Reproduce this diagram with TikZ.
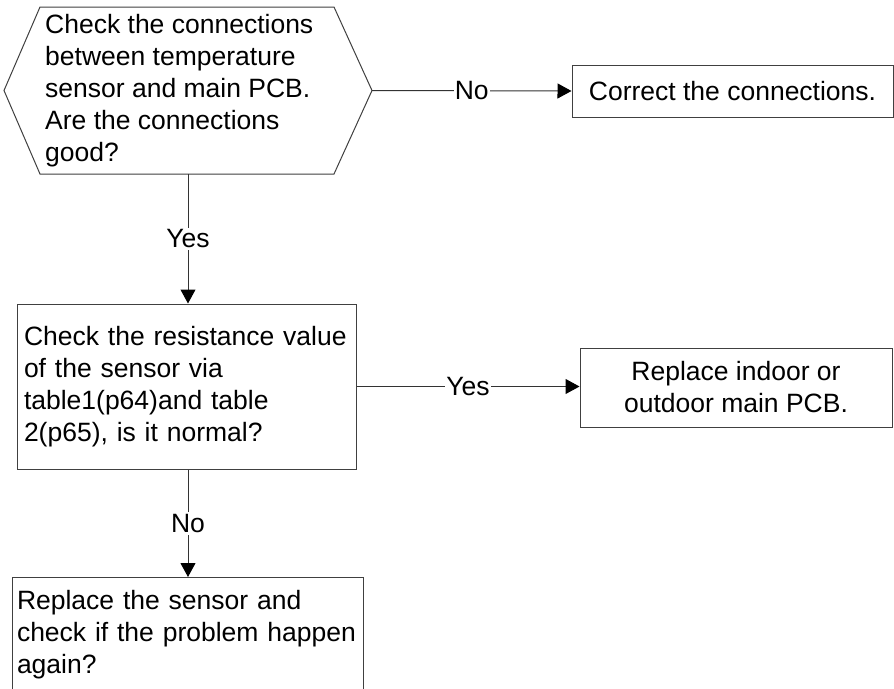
\documentclass[tikz,border=0pt]{standalone}
\usepackage{fontspec}
\setmainfont{Liberation Sans}
\usetikzlibrary{arrows.meta}
\tikzset{
  boxstyle/.style={draw=black!75, line width=1pt, fill=white},
  conn/.style={draw=black!80, line width=1pt},
  arr/.style={conn, -{Triangle[length=14pt,width=15pt,fill=black,color=black]}},
  lbl/.style={fill=white, inner xsep=1pt, inner ysep=2pt},
}
\begin{document}
\begin{tikzpicture}[x=1pt,y=-1pt,font=\fontsize{26.5}{32}\selectfont]
\useasboundingbox (0,0) rectangle (894,688);
\clip (0,0) rectangle (894,688);
% hexagon decision
\coordinate (hexL) at (4,90.5);
\coordinate (hexR) at (372,90.5);
\coordinate (hexT) at (188,7);
\coordinate (hexB) at (188,174);
\draw[boxstyle] (hexL) -- (40,7) -- (334,7) -- (hexR) -- (334,174) -- (40,174) -- cycle;
\node[anchor=west, align=left, inner sep=0pt] (hex) at (45,90.5)
  {Check the connections\\between temperature\\sensor and main PCB.\\Are the connections\\good?};
% boxes
\node[boxstyle, minimum width=321pt, minimum height=52pt, inner sep=0pt] (corr) at (732.5,91)
  {Correct the connections.};
\node[boxstyle, minimum width=339pt, minimum height=165pt, inner xsep=7pt, inner ysep=0pt,
      text width=325pt, align=left] (res) at (186.5,386.5)
  {Check the resistance value\\of the sensor via\\table1(p64)and table\\2(p65), is it normal?};
\node[boxstyle, minimum width=312pt, minimum height=79pt, inner sep=0pt, align=center] (pcb) at (736,387.5)
  {Replace indoor or\\outdoor main PCB.};
\node[boxstyle, anchor=north, minimum width=351pt, inner xsep=5pt, inner ysep=13pt,
      text width=341pt, align=left] (sens) at (187.5,577)
  {Replace the sensor and\\check if the problem happen\\again?};
% connectors
\draw[arr] (hexR) -- (corr.west) node[midway, lbl] {No};
\draw[arr] (hexB) -- (res.north -| hexB) node[midway, lbl] {Yes};
\draw[arr] (res.east) -- (pcb.west |- res.east) node[midway, lbl] {Yes};
\draw[arr] (res.south -| hexB) -- (sens.north -| hexB) node[midway, lbl] {No};
\end{tikzpicture}
\end{document}
